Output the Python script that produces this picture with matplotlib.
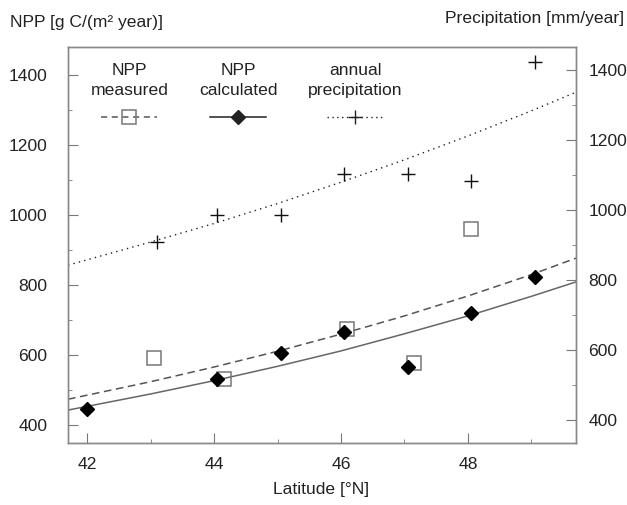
import matplotlib.pyplot as plt
from matplotlib.offsetbox import VPacker
from matplotlib.lines import Line2D

plt.rcParams['font.family'] = ['Liberation Sans', 'DejaVu Sans']

# valores
lat_measured = [43.05, 44.15, 46.1, 47.15, 48.05]
npp_measured = [591, 531, 675, 577, 960]

lat_calc = [42.0, 44.05, 45.05, 46.05, 47.05, 48.05, 49.05]
npp_calc = [446, 531, 606, 666, 566, 720, 823]

lat_precip = [43.1, 44.05, 45.05, 46.05, 47.05, 48.05, 49.05]
precip = [910, 986, 986, 1104, 1104, 1084, 1424]

# curvas de ajuste (puntos leidos)
lat_fit = [41.7, 43, 44, 45, 46, 47, 48, 49, 49.7]
fit_measured = [474, 524, 566, 611, 660, 712, 769, 830, 877]
fit_calc = [443, 489, 527, 568, 612, 661, 712, 768, 809]
fit_precip = [843, 909, 962, 1019, 1080, 1144, 1212, 1284, 1337]

FS = 12.6

fig = plt.figure(figsize=(6.27, 5.05), dpi=100)
ax = fig.add_axes([0.1085, 0.1228, 0.81, 0.784])
ax2 = ax.twinx()

ax.plot(lat_fit, fit_measured, color='#555555', lw=1.1, ls=(0, (5, 3)), zorder=2)
ax.plot(lat_fit, fit_calc, color='#666666', lw=1.1, zorder=2)
ax2.plot(lat_fit, fit_precip, color='#222222', lw=1.0, ls=(0, (1, 3)), zorder=2)

ax.plot(lat_measured, npp_measured, ls='none', marker='s', ms=10, mfc='none',
        mec='#777777', mew=1.1)
ax.plot(lat_calc, npp_calc, ls='none', marker='D', ms=7, color='black', zorder=3)
ax2.plot(lat_precip, precip, ls='none', marker='+', ms=9.5, mew=1.0, color='#111111')

# manijas de leyenda con linea
lh1 = Line2D([], [], color='#555555', lw=1.1, ls=(0, (4, 3)), marker='s', ms=10,
             mfc='none', mec='#777777', mew=1.1)
lh2 = Line2D([], [], color='#222222', lw=1.1, marker='D', ms=7)
lh3 = Line2D([], [], color='#222222', lw=1.0, ls=(0, (1, 2.5)), marker='+', ms=9.5, mew=1.0)

leg = ax.legend([lh1, lh2, lh3], ['NPP\nmeasured', 'NPP\ncalculated', 'annual\nprecipitation'],
                ncol=3, frameon=False, markerfirst=False, handlelength=3.2,
                columnspacing=1.75, fontsize=FS, loc='upper left',
                bbox_to_anchor=(0.02, 0.99), borderpad=0.2)
# texto arriba de la manija
for col in leg._legend_handle_box.get_children():
    for item in col.get_children():
        item.__class__ = VPacker
        item.align = 'center'
        item.sep = 9
for t in leg.get_texts():
    t.set_multialignment('center')
    t.set_linespacing(1.4)
    t.set_color('#222222')

ax.set_xlim(41.7, 49.7)
ax.set_ylim(349, 1480)
ax2.set_ylim(335, 1466)

ax.set_xticks([42, 44, 46, 48])
ax.set_xticks([43, 45, 47, 49], minor=True)
ax.set_yticks([400, 600, 800, 1000, 1200, 1400])
ax.set_yticks([500, 700, 900, 1100, 1300], minor=True)
ax2.set_yticks([400, 600, 800, 1000, 1200, 1400])
ax2.set_yticks([500, 700, 900, 1100, 1300], minor=True)

ax.tick_params(axis='both', which='major', direction='in', length=7, width=0.8,
               color='#777777', labelsize=FS, labelcolor='#222222')
ax.tick_params(axis='y', which='major', pad=15)
ax.tick_params(axis='x', which='major', pad=10)
ax.tick_params(axis='both', which='minor', direction='in', length=3, color='#777777')
ax2.tick_params(axis='y', which='major', direction='in', length=7, width=0.8,
                color='#777777', labelsize=FS, labelcolor='#222222', pad=9)
ax2.tick_params(axis='y', which='minor', direction='in', length=3, color='#777777')

for a in (ax, ax2):
    for s in a.spines.values():
        s.set_color('#888888')
        s.set_linewidth(1.0)

fig.text(0.016, 0.955, 'NPP [g C/(m\u00b2 year)]', fontsize=FS, color='#222222', va='center')
fig.text(0.995, 0.963, 'Precipitation [mm/year]', fontsize=FS, color='#222222',
         va='center', ha='right')
fig.text(0.512, 0.03, 'Latitude [\u00b0N]', fontsize=FS, color='#222222', ha='center', va='center')

fig.savefig('out.png', dpi=100)
